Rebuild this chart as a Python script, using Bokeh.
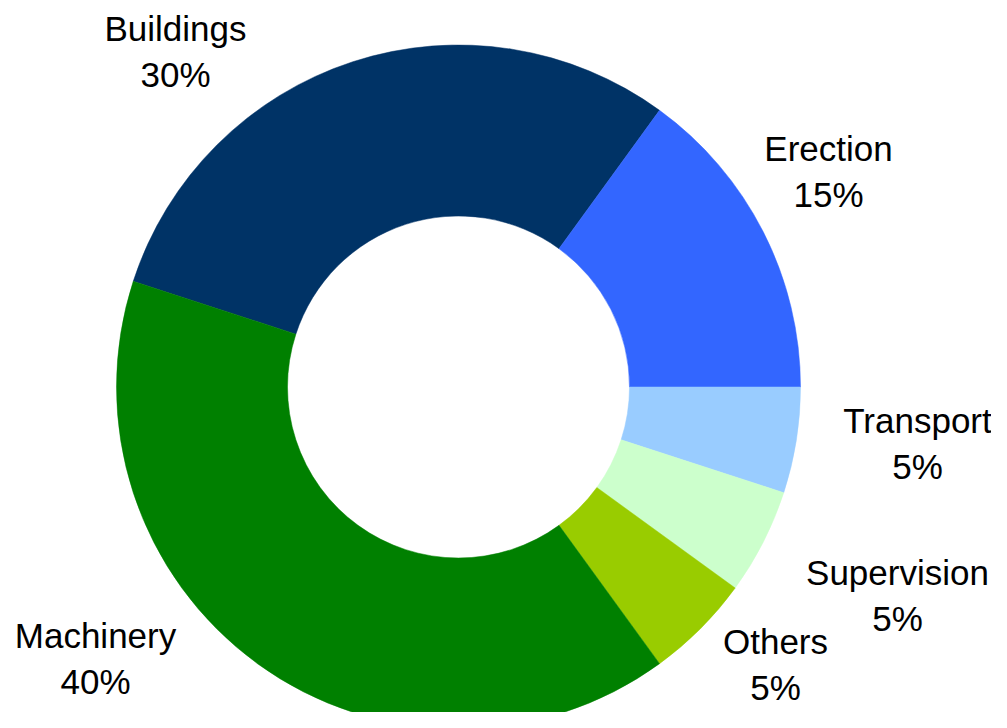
from bokeh.plotting import figure
from bokeh.models import Range1d, ColumnDataSource
from bokeh.core.properties import value
from bokeh.embed import file_html
from bokeh.resources import INLINE

# ---- data ----
categories = ["Buildings", "Erection", "Transport", "Supervision", "Others", "Machinery"]
shares = [30, 15, 5, 5, 5, 40]
colors = ["#003366", "#3366FF", "#99CCFF", "#CCFFCC", "#99CC00", "#008000"]

# ---- layout / style ----
H = 728
first_slice_deg = 162.0          # start angle of first slice, slices run clockwise
cx, cy_ref = 458, 386.5          # centre in page pixels (y from top)
r_out, r_in = 342, 171
# label anchor points (page pixels, x centre / baseline of first line)
label_x = [175, 828, 917, 897, 775, 95]
label_y = [39, 159, 431, 583, 652, 646]
line_gap = 46
baseline_fix = 11

total = float(sum(shares))
starts, ends = [], []
acc = 0.0
for s in shares:
    a0 = first_slice_deg - acc / total * 360.0
    acc += s
    a1 = first_slice_deg - acc / total * 360.0
    starts.append(a1)
    ends.append(a0)

def fy(y_ref):
    return H - y_ref

p = figure(width=991, height=712, output_backend="svg", toolbar_location=None,
           x_axis_type=None, y_axis_type=None, min_border=0,
           x_range=Range1d(0, 991), y_range=Range1d(16, 728))
p.outline_line_color = None
p.grid.visible = False
p.background_fill_color = "white"
p.border_fill_color = "white"

src = ColumnDataSource(dict(
    x=[cx] * len(shares), y=[fy(cy_ref)] * len(shares),
    start=starts, end=ends, color=colors,
))
p.annular_wedge(x="x", y="y", inner_radius=r_in, outer_radius=r_out,
                start_angle="start", end_angle="end", start_angle_units="deg",
                end_angle_units="deg", direction="anticlock",
                fill_color="color", line_color="color", line_width=0.5, source=src)

lab = ColumnDataSource(dict(
    x=label_x,
    y1=[fy(v - baseline_fix) for v in label_y],
    y2=[fy(v - baseline_fix + line_gap) for v in label_y],
    name=categories,
    pct=[f"{s}%" for s in shares],
))
for ycol, tcol in (("y1", "name"), ("y2", "pct")):
    p.text(x="x", y=ycol, text=tcol, source=lab, text_align="center",
           text_baseline="alphabetic", text_font=value("Liberation Sans"),
           text_font_size="35px", text_color="black")

open("out.html", "w").write(file_html(p, INLINE))
